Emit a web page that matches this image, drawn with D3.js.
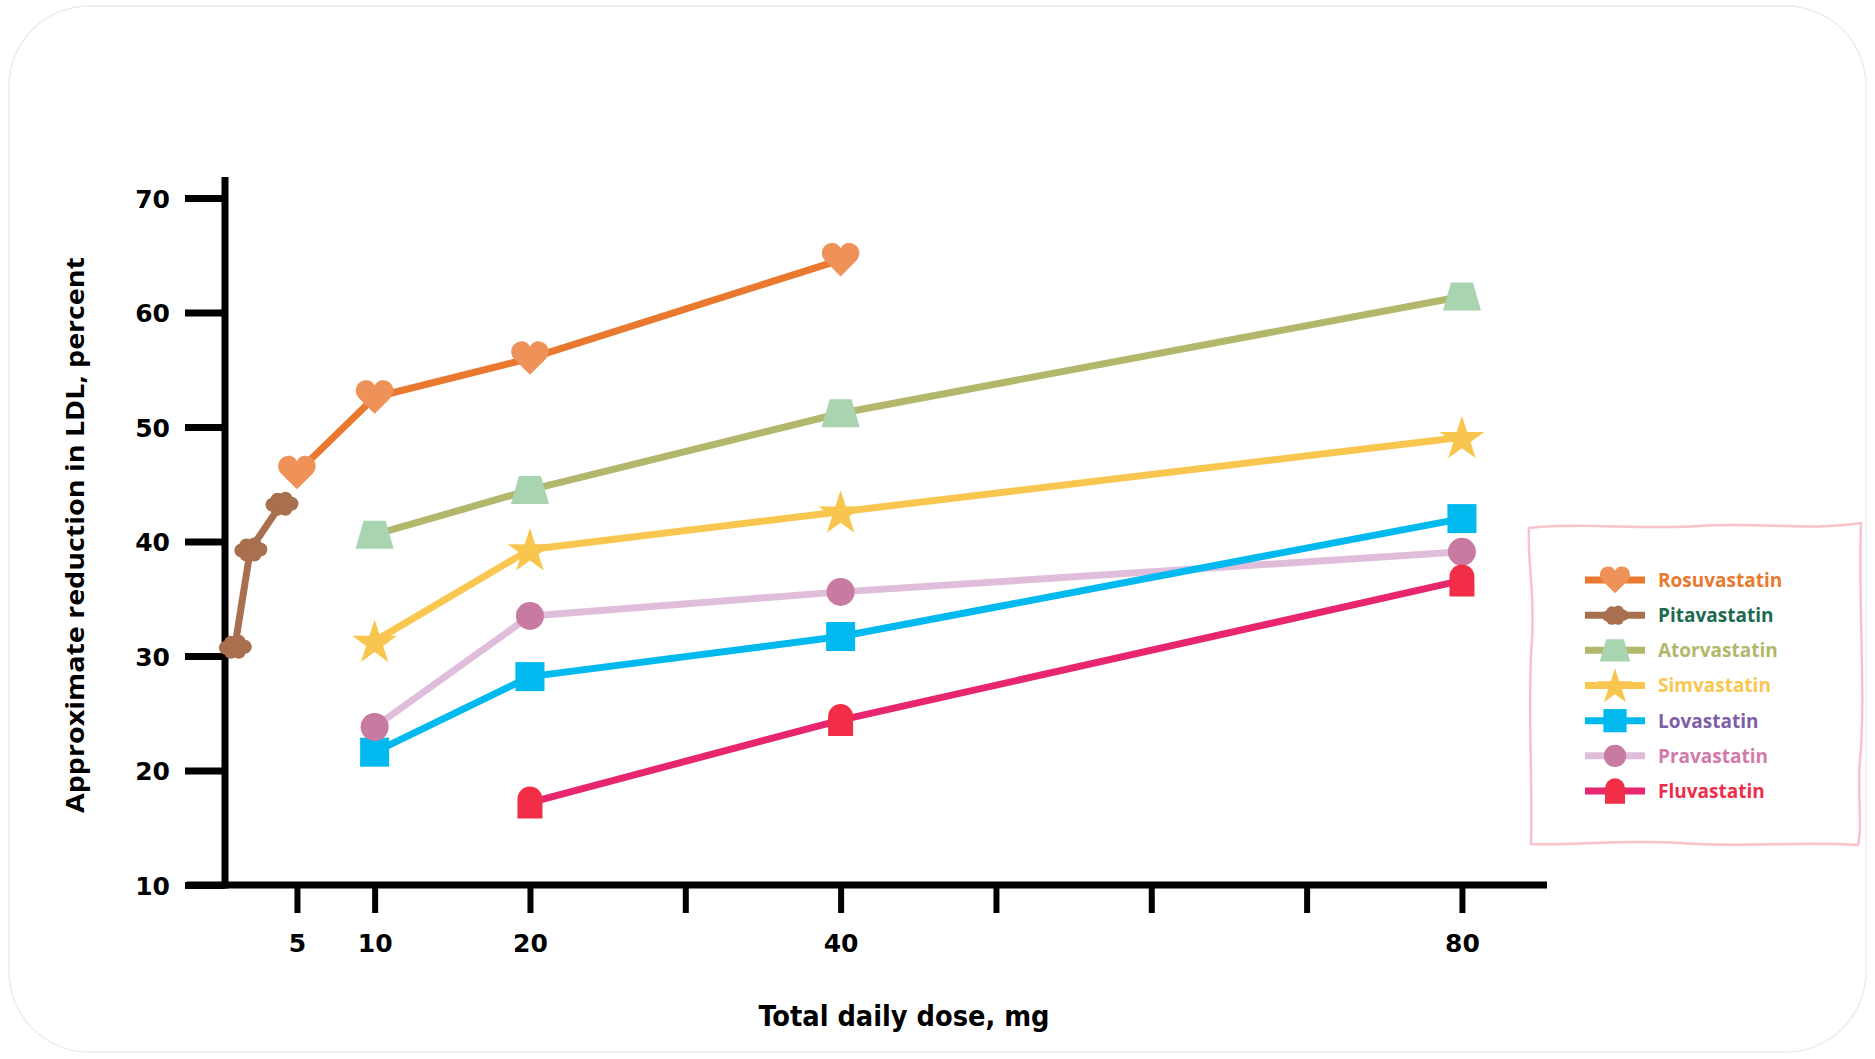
<!DOCTYPE html>
<html>
<head>
<meta charset="utf-8">
<script src="https://cdn.jsdelivr.net/npm/d3@7"></script>
<style>
  html, body { margin: 0; padding: 0; background: #ffffff; }
  svg { display: block; }
</style>
</head>
<body>
<svg id="chart" width="1875" height="1059"></svg>
<script>
// ---------------- DATA ----------------
const seriesNames = ["Rosuvastatin", "Pitavastatin", "Atorvastatin", "Simvastatin", "Lovastatin", "Pravastatin", "Fluvastatin"];

const rosuvaDoses = [5, 10, 20, 40];
const rosuvaValues = [46.0, 52.6, 56.0, 64.6];

const pitavaDoses = [1, 2, 4];
const pitavaValues = [30.8, 39.3, 43.3];

const atorvaDoses = [10, 20, 40, 80];
const atorvaValues = [40.6, 44.5, 51.2, 61.4];

const simvaDoses = [10, 20, 40, 80];
const simvaValues = [31.3, 39.3, 42.6, 49.1];

const lovaDoses = [10, 20, 40, 80];
const lovaValues = [21.6, 28.2, 31.7, 42.0];

const pravaDoses = [10, 20, 40, 80];
const pravaValues = [23.8, 33.5, 35.6, 39.1];

const fluvaDoses = [20, 40, 80];
const fluvaValues = [17.2, 24.4, 36.6];

const xTickValues = [5, 10, 20, 30, 40, 50, 60, 70, 80];
const xTickLabels = ["5", "10", "20", "", "40", "", "", "", "80"];
const yTickValues = [10, 20, 30, 40, 50, 60, 70];

const xTitle = "Total daily dose, mg";
const yTitle = "Approximate reduction in LDL, percent";

// ---------------- STYLE ----------------
const lineColors  = ["#e8792f", "#a8704e", "#b2b76c", "#f9c74f", "#00b9ee", "#e0bedb", "#e8266f"];
const markColors  = ["#ee925a", "#a8704e", "#a9d4b0", "#f8c64f", "#00b9ee", "#c97aa0", "#f22d46"];
const labelColors = ["#e8792f", "#1c6a4f", "#b2b76c", "#f9c74f", "#7d5ea7", "#d27ba8", "#ee2d4a"];
const markerKinds = ["heart", "cloud", "trap", "star", "square", "circle", "dome"];

const series = [
  { doses: rosuvaDoses, values: rosuvaValues },
  { doses: pitavaDoses, values: pitavaValues },
  { doses: atorvaDoses, values: atorvaValues },
  { doses: simvaDoses, values: simvaValues },
  { doses: lovaDoses, values: lovaValues },
  { doses: pravaDoses, values: pravaValues },
  { doses: fluvaDoses, values: fluvaValues }
].map((s, i) => ({
  name: seriesNames[i],
  points: s.doses.map((d, j) => ({ dose: d, value: s.values[j] })),
  lineColor: lineColors[i], markColor: markColors[i], labelColor: labelColors[i], kind: markerKinds[i]
}));

const svg = d3.select("#chart");

// card background
svg.append("rect")
  .attr("x", 9).attr("y", 6).attr("width", 1857).attr("height", 1046)
  .attr("rx", 80).attr("ry", 80)
  .attr("fill", "#ffffff").attr("stroke", "#ececec").attr("stroke-width", 1.5);

// scales
const x = d3.scaleLinear().domain([0, 85]).range([219.3, 219.3 + 85 * 15.533]);
const y = d3.scaleLinear().domain([10, 70]).range([885, 198]);

const axisX0 = 225, axisY0 = 885;

// ---------------- AXES ----------------
const yAxis = d3.axisLeft(y).tickValues(yTickValues).tickSize(40).tickPadding(15).tickFormat(d3.format("d"));
const gy = svg.append("g").attr("transform", `translate(${axisX0},0)`).call(yAxis);
gy.select(".domain").remove();
gy.selectAll(".tick line").attr("stroke", "#000").attr("stroke-width", 7);
gy.selectAll(".tick text")
  .attr("font-family", "'DejaVu Sans', sans-serif").attr("font-weight", "bold")
  .attr("font-size", 25).attr("fill", "#000").attr("x", -55).attr("dy", "0.36em");

const xAxis = d3.axisBottom(x).tickValues(xTickValues).tickSize(28)
  .tickFormat((d, i) => xTickLabels[i]);
const gx = svg.append("g").attr("transform", `translate(0,${axisY0})`).call(xAxis);
gx.select(".domain").remove();
gx.selectAll(".tick line").attr("stroke", "#000").attr("stroke-width", 6);
gx.selectAll(".tick text")
  .attr("font-family", "'DejaVu Sans', sans-serif").attr("font-weight", "bold")
  .attr("font-size", 25).attr("fill", "#000").attr("y", 67).attr("dy", 0);

// axis lines
svg.append("line").attr("x1", axisX0).attr("x2", axisX0).attr("y1", 177).attr("y2", axisY0 + 3.5)
  .attr("stroke", "#000").attr("stroke-width", 7);
svg.append("line").attr("x1", 187).attr("x2", 1547).attr("y1", axisY0).attr("y2", axisY0)
  .attr("stroke", "#000").attr("stroke-width", 7);

// titles
svg.append("text").text(xTitle)
  .attr("x", 904).attr("y", 1026).attr("text-anchor", "middle")
  .attr("font-family", "'DejaVu Sans Condensed', 'DejaVu Sans', sans-serif").attr("font-weight", "bold")
  .attr("font-size", 28).attr("fill", "#000")
  .attr("textLength", 291).attr("lengthAdjust", "spacingAndGlyphs");

svg.append("text").text(yTitle)
  .attr("transform", "translate(84,535) rotate(-90)").attr("text-anchor", "middle")
  .attr("font-family", "'Open Sans', sans-serif").attr("font-weight", "bold")
  .attr("font-size", 25).attr("fill", "#000")
  .attr("textLength", 556).attr("lengthAdjust", "spacingAndGlyphs");

// ---------------- MARKERS ----------------
function drawMarker(g, kind, color, s) {
  // s: scale factor (1 = chart size)
  if (kind === "heart") {
    const w = 36 * s;
    g.append("path").attr("fill", color).attr("d",
      `M0,${0.46*w} L${-0.42*w},${0.04*w} C${-0.62*w},${-0.16*w} ${-0.5*w},${-0.46*w} ${-0.25*w},${-0.47*w}
       C${-0.12*w},${-0.48*w} ${-0.03*w},${-0.4*w} 0,${-0.32*w}
       C${0.03*w},${-0.4*w} ${0.12*w},${-0.48*w} ${0.25*w},${-0.47*w}
       C${0.5*w},${-0.46*w} ${0.62*w},${-0.16*w} ${0.42*w},${0.04*w} Z`);
  } else if (kind === "cloud") {
    const c = [[-9, 1, 7], [-4, -4, 7], [4, -5, 7], [10, 0, 7], [4, 5, 7], [-4, 5, 7], [0, 0, 8]];
    c.forEach(p => g.append("circle").attr("cx", p[0]*s).attr("cy", p[1]*s).attr("r", p[2]*s).attr("fill", color));
  } else if (kind === "trap") {
    g.append("path").attr("fill", color)
      .attr("d", `M${-11*s},${-14*s} L${11*s},${-14*s} L${19*s},${14*s} L${-19*s},${14*s} Z`);
  } else if (kind === "star") {
    g.append("path").attr("fill", color)
      .attr("d", d3.symbol(d3.symbolStar, 620 * s * s)()).attr("transform", `translate(0,${2*s})`);
  } else if (kind === "square") {
    g.append("rect").attr("fill", color)
      .attr("x", -14.5*s).attr("y", -14.5*s).attr("width", 29*s).attr("height", 29*s);
  } else if (kind === "circle") {
    g.append("circle").attr("fill", color).attr("r", 14*s);
  } else if (kind === "dome") {
    const hw = 12.5 * s;
    g.append("path").attr("fill", color)
      .attr("d", `M${-hw},${16*s} L${-hw},${-3.5*s} A${hw},${hw} 0 0 1 ${hw},${-3.5*s} L${hw},${16*s} Z`);
  }
}

// ---------------- LINES ----------------
const line = d3.line().x(d => x(d.dose)).y(d => y(d.value));
const lineOrder = [6, 5, 4, 3, 2, 1, 0];
lineOrder.forEach(i => {
  const s = series[i];
  svg.append("path").datum(s.points)
    .attr("d", line).attr("fill", "none")
    .attr("stroke", s.lineColor).attr("stroke-width", 7)
    .attr("stroke-linejoin", "round").attr("stroke-linecap", "butt");
});
series.forEach(s => {
  svg.append("g").selectAll("g").data(s.points).join("g")
    .attr("transform", d => `translate(${x(d.dose)},${y(d.value)})`)
    .each(function () { drawMarker(d3.select(this), s.kind, s.markColor, 1); });
});

// ---------------- LEGEND ----------------
const lg = svg.append("g");
lg.append("path")
  .attr("d", "M1529,528 C1580,522 1640,530 1700,526 C1760,522 1810,531 1861,523 " +
             "C1858,600 1866,700 1860,760 C1857,800 1863,830 1858,845 " +
             "C1800,841 1740,848 1680,843 C1620,839 1570,846 1531,844 " +
             "C1533,780 1527,700 1532,640 C1535,590 1527,560 1529,528 Z")
  .attr("fill", "#ffffff").attr("stroke", "#f8c4ca").attr("stroke-width", 2.5);

const legendY = d3.scalePoint().domain(seriesNames).range([580, 791]);
series.forEach(s => {
  const gy2 = lg.append("g").attr("transform", `translate(0,${legendY(s.name)})`);
  gy2.append("line").attr("x1", 1585).attr("x2", 1645).attr("y1", 0).attr("y2", 0)
    .attr("stroke", s.lineColor).attr("stroke-width", 7);
  const mg = gy2.append("g").attr("transform", "translate(1615,0)");
  drawMarker(mg, s.kind, s.markColor, 0.8);
  gy2.append("text").text(s.name)
    .attr("x", 1658).attr("y", 0).attr("dy", "0.36em")
    .attr("font-family", "'Open Sans', sans-serif").attr("font-weight", "bold")
    .attr("font-size", 19).attr("fill", s.labelColor);
});
</script>
</body>
</html>
